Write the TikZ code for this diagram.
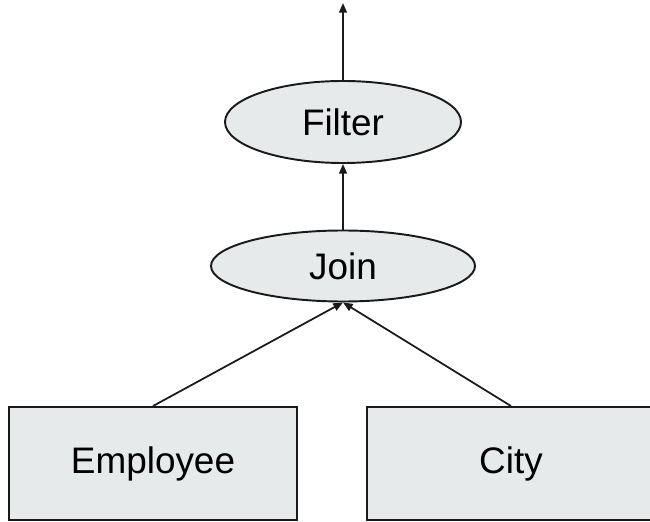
\documentclass[tikz,border=0pt]{standalone}
\usepackage{fontspec}
\setmainfont{Liberation Sans}
\usepackage{tikz}
\usepackage{xcolor}
\usetikzlibrary{shapes.geometric, arrows.meta, positioning}
\definecolor{OpFill}{HTML}{E7EAEB}
\definecolor{OpLine}{HTML}{1A1A1A}

\begin{document}
\begin{tikzpicture}[
  opnode/.style={ellipse, draw=OpLine, fill=OpFill, line width=1.1pt, inner sep=0pt, font=\fontsize{21}{24}\selectfont},
  relnode/.style={rectangle, draw=OpLine, fill=OpFill, line width=1.1pt, inner sep=0pt, minimum width=5.76cm, minimum height=2.26cm, font=\fontsize{21}{24}\selectfont},
  flow/.style={-{Triangle[length=5.5pt,width=4.5pt]}, OpLine, line width=1pt}
]
% Frame
\clip (0,0) rectangle (13,10.42);
% Operators
\node[opnode, minimum width=4.72cm, minimum height=1.64cm] (filter) at (6.86,7.98) {Filter};
\node[opnode, minimum width=5.28cm, minimum height=1.42cm] (join) at (6.86,5.10) {Join};
% Relations
\node[relnode] (employee) at (3.06,1.15) {Employee};
\node[relnode] (city) at (10.22,1.15) {City};
\coordinate (out) at (6.86,10.36);
% Edges
\draw[flow] (employee.north) -- (join.south);
\draw[flow] (city.north) -- (join.south);
\draw[flow] (join.north) -- (filter.south);
\draw[flow] (filter.north) -- (out);
\end{tikzpicture}
\end{document}
